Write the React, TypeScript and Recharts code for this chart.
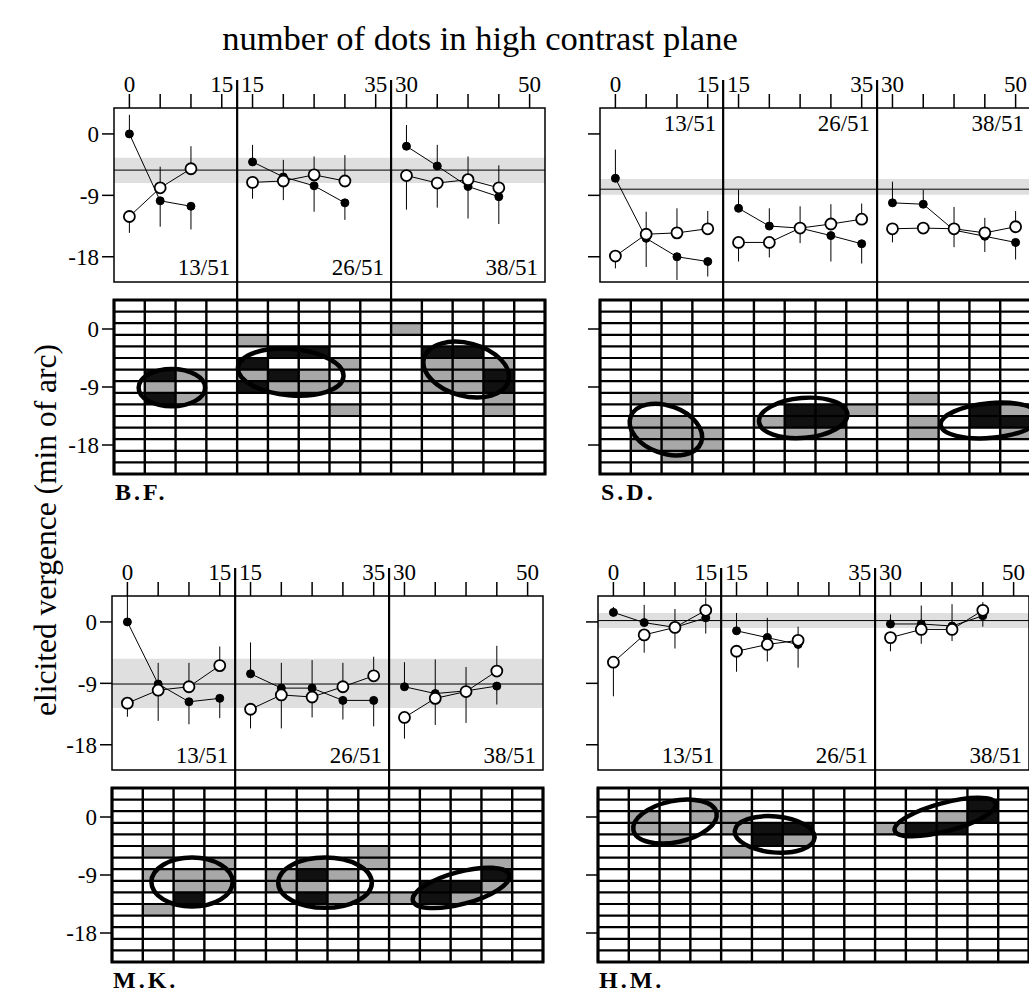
import React from 'react'
import { ComposedChart, Line, Scatter, XAxis, YAxis, ReferenceArea, ReferenceLine, ErrorBar } from 'recharts'

const FONT = '"Liberation Serif", "Times New Roman", serif'

// x values of the three sub-panels (number of dots in high contrast plane)
const SEG_TICKS = [[0, 5, 10, 15], [15, 20, 25, 30, 35], [30, 35, 40, 45, 50]]
const SEG_LABELS = ['13/51', '26/51', '38/51']
const Y_TICKS = [0, -9, -18]
const SUBJECT_NAMES = ['B.F.', 'S.D.', 'M.K.', 'H.M.']

// B.F.
const BF_FILLED = [[0, -9.8, -10.6], [-4.1, -6.3, -7.6, -10.1], [-1.8, -4.7, -7.7, -9.2]]
const BF_FILLED_ERR = [[[0, 2.8], [3.8, 0], [3.4, 0]], [[0, 2.5], [0, 2.5], [3.8, 0], [2.5, 0]], [[0, 3.1], [0, 3.1], [4.7, 0], [4.0, 0]]]
const BF_OPEN = [[-12.1, -7.9, -5.1], [-7.1, -6.9, -6.0, -6.9], [-6.1, -7.2, -6.7, -7.9]]
const BF_OPEN_ERR = [[[2.4, 0], [0, 3.1], [0, 3.3]], [[2.4, 0], [2.8, 0], [0, 2.7], [0, 3.8]], [[5.0, 0], [3.6, 0], [0, 3.4], [0, 3.3]]]
const BF_MEAN = -5.3
const BF_BAND = [-7.2, -3.5]
const BF_BLACK = [[0, 5, -7.2], [0, 5, -10.8], [1, 15, -5.4], [1, 15, -9.0], [1, 20, -3.6], [1, 25, -3.6], [1, 20, -7.2], [2, 35, -3.6], [2, 40, -3.6], [2, 45, -7.2], [2, 45, -9.0]]
const BF_GRAY = [[0, 5, -9.0], [0, 10, -7.2], [0, 10, -10.8], [1, 15, -1.8], [1, 15, -7.2], [1, 20, -9.0], [1, 25, -7.2], [1, 25, -9.0], [1, 30, -5.4], [1, 30, -9.0], [1, 30, -12.6], [2, 30, 0], [2, 35, -5.4], [2, 40, -5.4], [2, 45, -5.4], [2, 35, -7.2], [2, 40, -7.2], [2, 35, -9.0], [2, 40, -9.0], [2, 45, -10.8], [2, 45, -12.6]]
const BF_ELLIPSES = [[0, 6.9, -9.1, 5.4, 2.9, 0], [1, 21.2, -6.7, 8.6, 3.6, 5], [2, 39.7, -6.3, 7.1, 4.1, 15]]

// S.D.
const SD_FILLED = [[-6.5, -15.3, -18.0, -18.7], [-10.9, -13.5, -13.8, -14.9, -16.1], [-10.1, -10.3, -14.1, -15.0, -15.9]]
const SD_FILLED_ERR = [[[0, 4.2], [4.2, 0], [3.4, 0], [2.2, 0]], [[0, 2.7], [0, 2.6], [0, 3.2], [3.8, 0], [2.9, 0]], [[0, 3.1], [0, 2.1], [0, 3.4], [2.3, 0], [2.5, 0]]]
const SD_OPEN = [[-17.9, -14.7, -14.5, -13.9], [-15.9, -15.9, -13.8, -13.2, -12.5], [-13.9, -13.8, -13.9, -14.5, -13.6]]
const SD_OPEN_ERR = [[[1.8, 0], [0, 3.3], [0, 3.6], [0, 2.6]], [[2.8, 0], [2.2, 0], [2.2, 0], [0, 2.9], [0, 2.3]], [[2.0, 0], [0, 0], [2.7, 0], [0, 2.2], [0, 2.3]]]
const SD_MEAN = -8.1
const SD_BAND = [-8.9, -6.6]
const SD_BLACK = [[1, 25, -12.6], [1, 30, -12.6], [1, 25, -14.4], [1, 30, -14.4], [2, 45, -12.6], [2, 45, -14.4], [2, 50, -14.4]]
const SD_GRAY = [[0, 5, -10.8], [0, 10, -10.8], [0, 5, -14.4], [0, 10, -14.4], [0, 5, -16.2], [0, 10, -16.2], [0, 15, -16.2], [0, 5, -18.0], [0, 10, -18.0], [0, 15, -18.0], [0, 10, -19.8], [1, 20, -14.4], [1, 25, -16.2], [1, 30, -16.2], [1, 35, -12.6], [2, 35, -10.8], [2, 35, -14.4], [2, 35, -16.2], [2, 50, -12.6], [2, 50, -16.2]]
const SD_ELLIPSES = [[0, 8.2, -15.6, 6.1, 3.7, 20], [1, 25.5, -13.8, 7.2, 3.1, -5], [2, 45.9, -14.2, 8.1, 2.7, -5]]

// M.K.
const MK_FILLED = [[0.0, -9.1, -11.7, -11.2], [-7.6, -9.7, -9.7, -11.5, -11.5], [-9.5, -10.5, -10.1, -9.4]]
const MK_FILLED_ERR = [[[0, 4.0], [0, 3.1], [3.3, 0], [2.9, 0]], [[0, 4.6], [0, 3.7], [0, 4.1], [2.8, 0], [3.8, 0]], [[0, 3.6], [0, 5.0], [0, 3.5], [2.7, 0]]]
const MK_OPEN = [[-11.9, -10.0, -9.5, -6.4], [-12.8, -10.7, -11.0, -9.5, -7.9], [-14.0, -11.2, -10.2, -7.2]]
const MK_OPEN_ERR = [[[2.0, 0], [4.5, 0], [0, 3.5], [0, 2.8]], [[2.8, 0], [4.9, 0], [3.0, 0], [0, 3.5], [0, 2.8]], [[3.1, 0], [3.9, 0], [4.6, 0], [0, 3.7]]]
const MK_MEAN = -9.1
const MK_BAND = [-12.6, -5.4]
const MK_BLACK = [[0, 10, -12.6], [1, 25, -9.0], [1, 25, -12.6], [2, 35, -10.8], [2, 40, -10.8], [2, 45, -9.0], [2, 35, -12.6]]
const MK_GRAY = [[0, 5, -5.4], [0, 5, -14.4], [0, 15, -7.2], [0, 5, -9.0], [0, 10, -9.0], [0, 10, -10.8], [0, 15, -10.8], [0, 15, -9.0], [1, 20, -9.0], [1, 20, -10.8], [1, 25, -10.8], [1, 30, -9.0], [1, 25, -7.2], [1, 35, -12.6], [1, 35, -5.4], [1, 35, -7.2], [1, 30, -12.6], [2, 45, -7.2], [2, 45, -10.8], [2, 40, -12.6], [2, 30, -12.6]]
const MK_ELLIPSES = [[0, 10.5, -10.1, 6.6, 3.8, 0], [1, 27.1, -10.2, 7.6, 3.9, 0], [2, 39.2, -11.0, 8.1, 2.5, -15]]

// H.M.
const HM_FILLED = [[1.4, -0.1, -0.8, 0.6], [-1.3, -2.3, -3.3], [-0.3, -0.3, -0.6, 0.9]]
const HM_FILLED_ERR = [[[0, 0.8], [0, 2.6], [3.1, 0], [2.3, 0]], [[0, 2.6], [0, 2.9], [3.4, 0]], [[0, 1.4], [0, 2.7], [0, 3.2], [1.6, 0]]]
const HM_OPEN = [[-5.9, -1.9, -0.8, 1.7], [-4.3, -3.3, -2.7], [-2.3, -1.1, -1.1, 1.7]]
const HM_OPEN_ERR = [[[5.0, 0], [2.6, 0], [0, 2.7], [0, 1.9]], [[3.0, 0], [2.5, 0], [0, 2.0]], [[2.0, 0], [2.1, 0], [1.7, 0], [0, 1.2]]]
const HM_MEAN = 0.2
const HM_BAND = [-0.9, 1.3]
const HM_BLACK = [[1, 20, -1.8], [1, 25, -1.8], [1, 20, -3.6], [2, 45, 1.8], [2, 45, 0], [2, 35, -1.8], [2, 40, -1.8]]
const HM_GRAY = [[0, 15, 1.8], [0, 15, 0], [0, 5, -1.8], [0, 10, -1.8], [0, 10, -3.6], [0, 5, 0], [1, 25, -3.6], [1, 15, 0], [1, 15, -1.8], [1, 15, -5.4], [2, 30, -1.8], [2, 40, 0]]
const HM_ELLIPSES = [[0, 10.0, -0.7, 6.9, 3.2, -12], [1, 21.2, -2.7, 6.5, 2.8, 5], [2, 38.9, 0, 8.5, 2.2, -15]]

const SUBJECTS = [
  { filled: BF_FILLED, filledErr: BF_FILLED_ERR, open: BF_OPEN, openErr: BF_OPEN_ERR, mean: BF_MEAN, band: BF_BAND, black: BF_BLACK, gray: BF_GRAY, ellipses: BF_ELLIPSES },
  { filled: SD_FILLED, filledErr: SD_FILLED_ERR, open: SD_OPEN, openErr: SD_OPEN_ERR, mean: SD_MEAN, band: SD_BAND, black: SD_BLACK, gray: SD_GRAY, ellipses: SD_ELLIPSES },
  { filled: MK_FILLED, filledErr: MK_FILLED_ERR, open: MK_OPEN, openErr: MK_OPEN_ERR, mean: MK_MEAN, band: MK_BAND, black: MK_BLACK, gray: MK_GRAY, ellipses: MK_ELLIPSES },
  { filled: HM_FILLED, filledErr: HM_FILLED_ERR, open: HM_OPEN, openErr: HM_OPEN_ERR, mean: HM_MEAN, band: HM_BAND, black: HM_BLACK, gray: HM_GRAY, ellipses: HM_ELLIPSES },
]

// page layout (pixel position of each plot box)
const LAYOUT = [
  { x: 114, lineTop: 108, gridTop: 300, yLabels: true, countTop: false },
  { x: 600, lineTop: 108, gridTop: 300, yLabels: false, countTop: true },
  { x: 112, lineTop: 596, gridTop: 788, yLabels: true, countTop: false },
  { x: 598, lineTop: 596, gridTop: 788, yLabels: false, countTop: false },
]

const PW = 431
const PH = 174
const XH = 50
const YW = 60
const U_MAX = 70
const LINE_DOMAIN = [-21.7, 3.8]
const GRID_DOMAIN = [-22.5, 4.5]
const ROW = 1.8

// the three sub-panels share one plotting axis, each offset along it
const SEG_START = [-2.5, 12.5, 27.5]
const SEG_OFF = [0, 20, 45]
const SEG_END = [20, 45, 70]
const toU = (s: number, x: number) => x - SEG_START[s] + SEG_OFF[s]

const TICK_U = SEG_TICKS.flatMap((xs, s) => xs.map((x) => toU(s, x)))
const TICK_TEXT = SEG_TICKS.flatMap((xs) => xs.map((x, i) => (i === 0 || i === xs.length - 1 ? String(x) : '')))

const COL_U = Array.from({ length: U_MAX / 5 + 1 }, (_, i) => i * 5)
const ROW_V = Array.from({ length: 16 }, (_, i) => +(GRID_DOMAIN[1] - i * ROW).toFixed(1))

const series = (vals: number[], errs: number[][], s: number) =>
  vals.map((v, i) => ({ u: toU(s, SEG_TICKS[s][i]), v, err: errs[i] }))

const tickStyle = { fontSize: 23, fill: '#000', fontFamily: FONT }

const EllipseShape = (props: any) => {
  const { cx, cy, payload } = props
  const kx = PW / U_MAX
  const ky = PH / (GRID_DOMAIN[1] - GRID_DOMAIN[0])
  return (
    <ellipse
      cx={cx}
      cy={cy}
      rx={payload.rx * kx}
      ry={payload.ry * ky}
      transform={`rotate(${payload.ang} ${cx} ${cy})`}
      fill="none"
      stroke="#000"
      strokeWidth={4.5}
    />
  )
}

const LinePanel = ({ d, lay }: any) => {
  const top = LINE_DOMAIN[1] + 28 / (PH / (LINE_DOMAIN[1] - LINE_DOMAIN[0]))
  const bottom = LINE_DOMAIN[0] - 19 / (PH / (LINE_DOMAIN[1] - LINE_DOMAIN[0]))
  return (
    <div style={{ position: 'absolute', left: lay.x - YW, top: lay.lineTop - XH }}>
      <ComposedChart width={YW + PW + 10} height={XH + PH + 30} margin={{ top: 0, right: 10, bottom: 30, left: 0 }}>
        <XAxis
          type="number"
          dataKey="u"
          orientation="top"
          domain={[0, U_MAX]}
          allowDataOverflow
          ticks={TICK_U}
          interval={0}
          tickFormatter={(u: number) => TICK_TEXT[TICK_U.indexOf(u)] ?? ''}
          height={XH}
          axisLine={false}
          tickSize={14}
          tickMargin={2}
          tick={tickStyle}
          tickLine={{ stroke: '#000', strokeWidth: 1.5 }}
        />
        <YAxis
          type="number"
          domain={LINE_DOMAIN}
          allowDataOverflow
          ticks={Y_TICKS}
          interval={0}
          width={YW}
          axisLine={false}
          tickSize={12}
          tickMargin={3}
          tick={tickStyle}
          tickFormatter={(v: number) => (lay.yLabels ? String(v) : '')}
          tickLine={{ stroke: '#000', strokeWidth: 1.5 }}
        />
        <ReferenceArea x1={0} x2={U_MAX} y1={d.band[0]} y2={d.band[1]} fill="#d2d2d2" fillOpacity={0.7} stroke="none" />
        <ReferenceLine y={d.mean} stroke="#000" strokeWidth={1} />
        <ReferenceArea x1={0} x2={U_MAX} y1={LINE_DOMAIN[0]} y2={LINE_DOMAIN[1]} fill="none" stroke="#000" strokeWidth={1.5} />
        {SEG_OFF.map((u0, s) => (
          <ReferenceArea
            key={`lab-${s}`}
            x1={u0}
            x2={SEG_END[s]}
            y1={LINE_DOMAIN[0]}
            y2={LINE_DOMAIN[1]}
            fill="none"
            stroke="none"
            label={{ value: SEG_LABELS[s], position: lay.countTop ? 'insideTopRight' : 'insideBottomRight', offset: 7, fill: '#000', fontSize: 23, fontFamily: FONT }}
          />
        ))}
        {[SEG_END[0], SEG_END[1]].map((u) => (
          <ReferenceLine
            key={`div-${u}`}
            segment={[{ x: u, y: top }, { x: u, y: bottom }]}
            stroke="#000"
            strokeWidth={2.2}
            ifOverflow="visible"
          />
        ))}
        {SEG_OFF.map((_, s) => (
          <Line
            key={`f-${s}`}
            data={series(d.filled[s], d.filledErr[s], s)}
            dataKey="v"
            stroke="#000"
            strokeWidth={1}
            dot={{ r: 4, fill: '#000', stroke: '#000', strokeWidth: 1 }}
            activeDot={false}
            isAnimationActive={false}
          >
            <ErrorBar dataKey="err" direction="y" width={0} stroke="#000" strokeWidth={1} />
          </Line>
        ))}
        {SEG_OFF.map((_, s) => (
          <Line
            key={`o-${s}`}
            data={series(d.open[s], d.openErr[s], s)}
            dataKey="v"
            stroke="#000"
            strokeWidth={1}
            dot={{ r: 5.5, fill: '#fff', stroke: '#000', strokeWidth: 1.8 }}
            activeDot={false}
            isAnimationActive={false}
          >
            <ErrorBar dataKey="err" direction="y" width={0} stroke="#000" strokeWidth={1} />
          </Line>
        ))}
      </ComposedChart>
    </div>
  )
}

const GridPanel = ({ d, lay }: any) => {
  const cell = (c: number[], fill: string, k: string) => {
    const u = toU(c[0], c[1])
    return <ReferenceArea key={k} x1={u - 2.5} x2={u + 2.5} y1={c[2] - ROW / 2} y2={c[2] + ROW / 2} fill={fill} fillOpacity={1} stroke="none" />
  }
  const ell = d.ellipses.map((e: number[]) => ({ u: toU(e[0], e[1]), v: e[2], rx: e[3], ry: e[4], ang: e[5] }))
  return (
    <div style={{ position: 'absolute', left: lay.x - YW, top: lay.gridTop - 10 }}>
      <ComposedChart width={YW + PW + 10} height={PH + 20} margin={{ top: 10, right: 10, bottom: 10, left: 0 }}>
        <XAxis type="number" dataKey="u" domain={[0, U_MAX]} allowDataOverflow hide height={0} />
        <YAxis
          type="number"
          domain={GRID_DOMAIN}
          allowDataOverflow
          ticks={Y_TICKS}
          interval={0}
          width={YW}
          axisLine={false}
          tickSize={12}
          tickMargin={3}
          tick={tickStyle}
          tickFormatter={(v: number) => (lay.yLabels ? String(v) : '')}
          tickLine={{ stroke: '#000', strokeWidth: 1.5 }}
        />
        {d.gray.map((c: number[], i: number) => cell(c, '#a8a8a8', `g-${i}`))}
        {d.black.map((c: number[], i: number) => cell(c, '#111', `b-${i}`))}
        {COL_U.map((u) => (
          <ReferenceLine key={`c-${u}`} x={u} stroke="#000" strokeWidth={2.4} />
        ))}
        {ROW_V.map((v) => (
          <ReferenceLine key={`r-${v}`} y={v} stroke="#000" strokeWidth={2.2} />
        ))}
        <ReferenceArea x1={0} x2={U_MAX} y1={GRID_DOMAIN[0]} y2={GRID_DOMAIN[1]} fill="none" stroke="#000" strokeWidth={3} />
        <Scatter data={ell} dataKey="v" shape={EllipseShape} isAnimationActive={false} />
      </ComposedChart>
    </div>
  )
}

export default function App() {
  return (
    <div style={{ position: 'fixed', left: 0, top: 0, width: 1029, height: 994, overflow: 'hidden', background: '#fff', fontFamily: FONT }}>
      <div style={{ position: 'absolute', left: 480, top: 21, transform: 'translateX(-50%)', fontSize: 34.5, lineHeight: '34px', whiteSpace: 'nowrap' }}>
        number of dots in high contrast plane
      </div>
      <div style={{ position: 'absolute', left: 45, top: 530, transform: 'translate(-50%, -50%) rotate(-90deg)', fontSize: 31.5, lineHeight: '31px', whiteSpace: 'nowrap' }}>
        elicited vergence (min of arc)
      </div>
      {SUBJECTS.map((d, i) => (
        <React.Fragment key={SUBJECT_NAMES[i]}>
          <LinePanel d={d} lay={LAYOUT[i]} />
          <GridPanel d={d} lay={LAYOUT[i]} />
          <div style={{ position: 'absolute', left: LAYOUT[i].x + 1, top: LAYOUT[i].gridTop + PH + 7, fontSize: 24, lineHeight: '23px', fontWeight: 'bold', letterSpacing: 3 }}>
            {SUBJECT_NAMES[i]}
          </div>
        </React.Fragment>
      ))}
    </div>
  )
}
